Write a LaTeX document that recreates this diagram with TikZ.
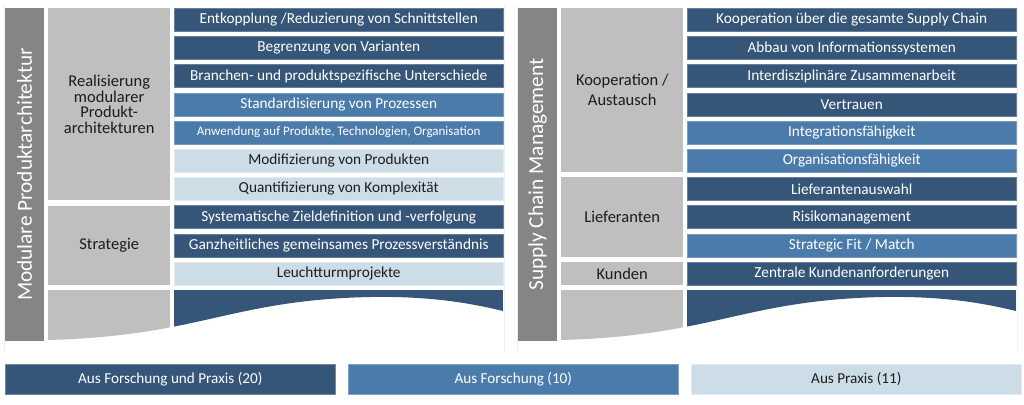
\documentclass[tikz,border=0pt]{standalone}
\usepackage{fontspec}
\setmainfont{Carlito}
\definecolor{dblue}{RGB}{53,86,120}
\definecolor{mblue}{RGB}{74,123,170}
\definecolor{lblue}{RGB}{205,221,231}
\definecolor{lgray}{RGB}{191,191,191}
\definecolor{dgray}{RGB}{133,133,133}
\definecolor{txt}{RGB}{28,28,28}
\definecolor{frame}{RGB}{240,240,240}
\begin{document}
\begin{tikzpicture}[x=1pt,y=-1pt,
  tile/.style={anchor=north west, minimum width=329pt, minimum height=23pt, inner sep=0pt, font=\fontsize{15.3}{17}\selectfont},
  dk/.style={tile, fill=dblue, draw=dblue!75!white, line width=0.5pt, text=white},
  md/.style={tile, fill=mblue, draw=mblue!75!white, line width=0.5pt, text=white},
  lt/.style={tile, fill=lblue, draw=lblue!60!white, line width=0.5pt, text=txt},
  grp/.style={anchor=north west, minimum width=122pt, inner sep=0pt, fill=lgray, align=center, text=txt, font=\fontsize{16.5}{15.8}\selectfont},
  bar/.style={rotate=90, minimum width=333pt, minimum height=39pt, inner sep=0pt, fill=dgray, text=white, font=\fontsize{21.3}{25}\selectfont},
  leg/.style={anchor=north west, minimum width=330pt, minimum height=30pt, inner sep=0pt, font=\fontsize{15.2}{17}\selectfont}
]
\useasboundingbox (0,0) rectangle (1024,404);
% faint panel frames
\draw[frame, line width=0.8pt] (4,4) -- (4,352) (504,4) -- (504,352);
\draw[frame, line width=0.8pt] (517,4) -- (517,352) (1017,4) -- (1017,352);

% wave bottoms for both panels
\foreach \dx in {0,513}{
\begin{scope}[xshift=\dx]
\clip (48,290) -- (503,290) -- (503,311) .. controls (470,303) and (430,296) .. (370,297) .. controls (230,300) and (200,336) .. (48,340) -- cycle;
\fill[lgray] (48,290) rectangle (170,345);
\fill[dblue] (174,290) rectangle (503,345);
\end{scope}}

% ---------- left panel ----------
\node[bar] (lbar) at (24.5,174.5) {Modulare Produktarchitektur};
\node[grp, minimum height=192.2pt] (lg1) at (48,8) {Realisierung\\modularer\\Produkt-\\architekturen};
\node[grp, minimum height=79.4pt] (lg2) at (48,205.4) {Strategie};

\node[dk] (l1) at (174,8) {Entkopplung /Reduzierung von Schnittstellen};
\node[dk] (l2) at (174,36.2) {Begrenzung von Varianten};
\node[dk] (l3) at (174,64.4) {Branchen- und produktspezifische Unterschiede};
\node[md] (l4) at (174,92.6) {Standardisierung von Prozessen};
\node[md, font=\fontsize{13}{15}\selectfont] (l5) at (174,120.8) {Anwendung auf Produkte, Technologien, Organisation};
\node[lt] (l6) at (174,149) {Modifizierung von Produkten};
\node[lt] (l7) at (174,177.2) {Quantifizierung von Komplexität};
\node[dk] (l8) at (174,205.4) {Systematische Zieldefinition und -verfolgung};
\node[dk] (l9) at (174,233.6) {Ganzheitliches gemeinsames Prozessverständnis};
\node[lt] (l10) at (174,261.8) {Leuchtturmprojekte};

% ---------- right panel ----------
\node[bar] (rbar) at (537.5,174.5) {Supply Chain Management};
\node[grp, minimum height=164pt, font=\fontsize{16.5}{20}\selectfont] (rg1) at (561,8) {Kooperation /\\Austausch};
\node[grp, minimum height=79.4pt] (rg2) at (561,177.2) {Lieferanten};
\node[grp, minimum height=23pt] (rg3) at (561,261.8) {Kunden};

\node[dk] (r1) at (687,8) {Kooperation über die gesamte Supply Chain};
\node[dk] (r2) at (687,36.2) {Abbau von Informationssystemen};
\node[dk] (r3) at (687,64.4) {Interdisziplinäre Zusammenarbeit};
\node[dk] (r4) at (687,92.6) {Vertrauen};
\node[md] (r5) at (687,120.8) {Integrationsfähigkeit};
\node[md] (r6) at (687,149) {Organisationsfähigkeit};
\node[dk] (r7) at (687,177.2) {Lieferantenauswahl};
\node[dk] (r8) at (687,205.4) {Risikomanagement};
\node[md] (r9) at (687,233.6) {Strategic Fit / Match};
\node[dk] (r10) at (687,261.8) {Zentrale Kundenanforderungen};

% ---------- legend ----------
\node[leg, fill=dblue, draw=dblue!70!white, line width=0.6pt, text=white] (k1) at (5,364) {Aus Forschung und Praxis (20)};
\node[leg, fill=mblue, draw=mblue!70!white, line width=0.6pt, text=white] (k2) at (348,364) {Aus Forschung (10)};
\node[leg, fill=lblue, draw=lblue!60!white, line width=0.6pt, text=txt] (k3) at (691,364) {Aus Praxis (11)};
\end{tikzpicture}
\end{document}
